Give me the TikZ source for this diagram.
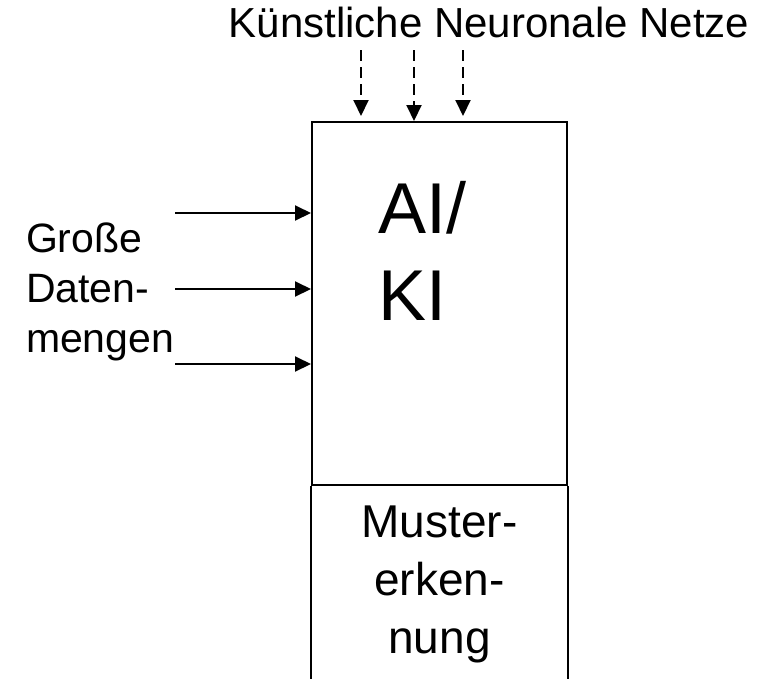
\documentclass[tikz,border=0pt]{standalone}
\usepackage{fontspec}
\setmainfont{Liberation Sans}
\usetikzlibrary{arrows.meta}
\tikzset{
  feed/.style={-{Triangle[length=16pt,width=15pt]}, line width=2pt},
  lbl/.style={inner sep=0pt, font=\fontsize{41}{50}\selectfont}
}
\begin{document}
\begin{tikzpicture}[x=1pt,y=-1pt,line width=2pt]
  \useasboundingbox (0,0) rectangle (759,678);
  % AI box, the part below it stays open at the bottom
  \node[draw,minimum width=255pt,minimum height=363pt,inner sep=0pt] (ai) at (439.5,303.5) {};
  \draw (ai.south west) -- ++(0,220);
  \draw (ai.south east) -- ++(0,220);
  \node[lbl, font=\fontsize{72}{87}\selectfont, align=left, anchor=base west] (aitext) at (377,320) {AI/\\KI};
  \node[lbl, font=\fontsize{46}{58}\selectfont, align=center, anchor=base] (muster) at (439.5,653) {Muster-\\erken-\\nung};
  % inputs from above
  \node[lbl, font=\fontsize{42}{50}\selectfont, anchor=base] (knn) at (489,37) {Künstliche Neuronale Netze};
  \foreach \x/\s in {361/5,414/0,463/5} {
    \coordinate (t\x) at (\x,50);
    \draw[feed, dash pattern=on 11pt off 6pt, shorten >=\s pt] (t\x) -- (t\x |- ai.north);
  }
  % inputs from the left
  \node[lbl, align=left, anchor=base west] (data) at (25,352) {Große\\Daten-\\mengen};
  \foreach \y in {213,289,364} {
    \coordinate (d\y) at (175,\y);
    \draw[feed] (d\y) -- (d\y -| ai.west);
  }
\end{tikzpicture}
\end{document}
